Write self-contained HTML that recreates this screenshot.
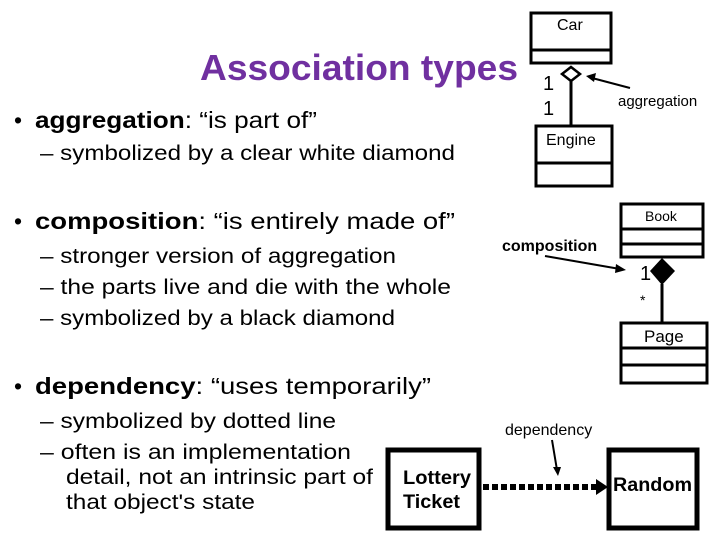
<!DOCTYPE html>
<html><head><style>
body{margin:0;width:720px;height:540px;background:#fff;position:relative;overflow:hidden;font-family:"Liberation Sans",sans-serif;color:#000}
</style></head><body>
<svg width="720" height="540" style="position:absolute;left:0;top:0" font-family="Liberation Sans, sans-serif">
<text x="200" y="80" font-size="36" font-weight="bold" fill="#7030A0" textLength="318" lengthAdjust="spacingAndGlyphs">Association types</text>
<g font-size="23">
<text x="14" y="128">•</text><text x="35" y="128" textLength="282" lengthAdjust="spacingAndGlyphs"><tspan font-weight="bold">aggregation</tspan>: “is part of”</text>
<text x="14" y="229">•</text><text x="35" y="229" textLength="420" lengthAdjust="spacingAndGlyphs"><tspan font-weight="bold">composition</tspan>: “is entirely made of”</text>
<text x="14" y="394">•</text><text x="35" y="394" textLength="396" lengthAdjust="spacingAndGlyphs"><tspan font-weight="bold">dependency</tspan>: “uses temporarily”</text>
</g>
<g font-size="21">
<text x="40" y="160" textLength="415" lengthAdjust="spacingAndGlyphs">– symbolized by a clear white diamond</text>
<text x="40" y="263" textLength="356" lengthAdjust="spacingAndGlyphs">– stronger version of aggregation</text>
<text x="40" y="294" textLength="411" lengthAdjust="spacingAndGlyphs">– the parts live and die with the whole</text>
<text x="40" y="325" textLength="355" lengthAdjust="spacingAndGlyphs">– symbolized by a black diamond</text>
<text x="40" y="428" textLength="296" lengthAdjust="spacingAndGlyphs">– symbolized by dotted line</text>
<text x="40" y="459" textLength="311" lengthAdjust="spacingAndGlyphs">– often is an implementation</text>
<text x="66" y="484" textLength="307" lengthAdjust="spacingAndGlyphs">detail, not an intrinsic part of</text>
<text x="66" y="509" textLength="189" lengthAdjust="spacingAndGlyphs">that object's state</text>
</g>
<g fill="none" stroke="#000" stroke-width="3">
<rect x="531" y="13" width="80" height="50"/><line x1="531" y1="50" x2="611" y2="50"/>
<rect x="536" y="126" width="76" height="60"/><line x1="536" y1="163" x2="612" y2="163"/>
<path d="M571 67 L580 74 L571 81 L562 74 Z" stroke-width="2.5"/>
<line x1="571" y1="81" x2="571" y2="126"/>
<rect x="621" y="204" width="82" height="53"/><line x1="621" y1="229" x2="703" y2="229"/><line x1="621" y1="244" x2="703" y2="244"/>
<line x1="662" y1="284" x2="662" y2="322"/>
<rect x="621" y="323" width="86" height="60"/><line x1="621" y1="348" x2="707" y2="348"/><line x1="621" y1="365" x2="707" y2="365"/>
<rect x="388" y="450" width="91" height="78" stroke-width="5"/>
<rect x="609" y="450" width="88" height="78" stroke-width="5"/>
<line x1="483" y1="487" x2="597" y2="487" stroke-width="6" stroke-dasharray="6,3"/>
</g>
<path d="M650 271 L662 258 L675 271 L662 285 Z" fill="#000"/>
<path d="M596 479 L608 487 L596 495 Z" fill="#000"/>
<g stroke="#000" stroke-width="2">
<line x1="630" y1="88" x2="592" y2="78"/><line x1="545" y1="256" x2="620" y2="269"/><line x1="552" y1="440" x2="557" y2="470"/>
</g>
<path d="M586 76 L596 73 L594 82 Z" fill="#000"/>
<path d="M626 270 L616 264 L615 273 Z" fill="#000"/>
<path d="M558 476 L553 467 L561 467 Z" fill="#000"/>
<g font-size="16">
<text x="557" y="30">Car</text><text x="546" y="145">Engine</text>
<text x="618" y="106" font-size="15">aggregation</text>
<text x="645" y="221" font-size="14">Book</text>
<text x="644" y="342" font-size="17">Page</text>
<text x="502" y="251" font-weight="bold" font-size="16">composition</text>
<text x="505" y="435" font-size="16">dependency</text>
</g>
<text x="543" y="90" font-size="20">1</text><text x="543" y="115" font-size="20">1</text>
<text x="640" y="280" font-size="20">1</text><text x="640" y="305" font-size="14">*</text>
<g font-weight="bold" font-size="19">
<text x="403" y="484" textLength="68" lengthAdjust="spacingAndGlyphs">Lottery</text><text x="403" y="508" textLength="57" lengthAdjust="spacingAndGlyphs">Ticket</text>
<text x="613" y="491" textLength="79" lengthAdjust="spacingAndGlyphs">Random</text>
</g>
</svg>
</body></html>
